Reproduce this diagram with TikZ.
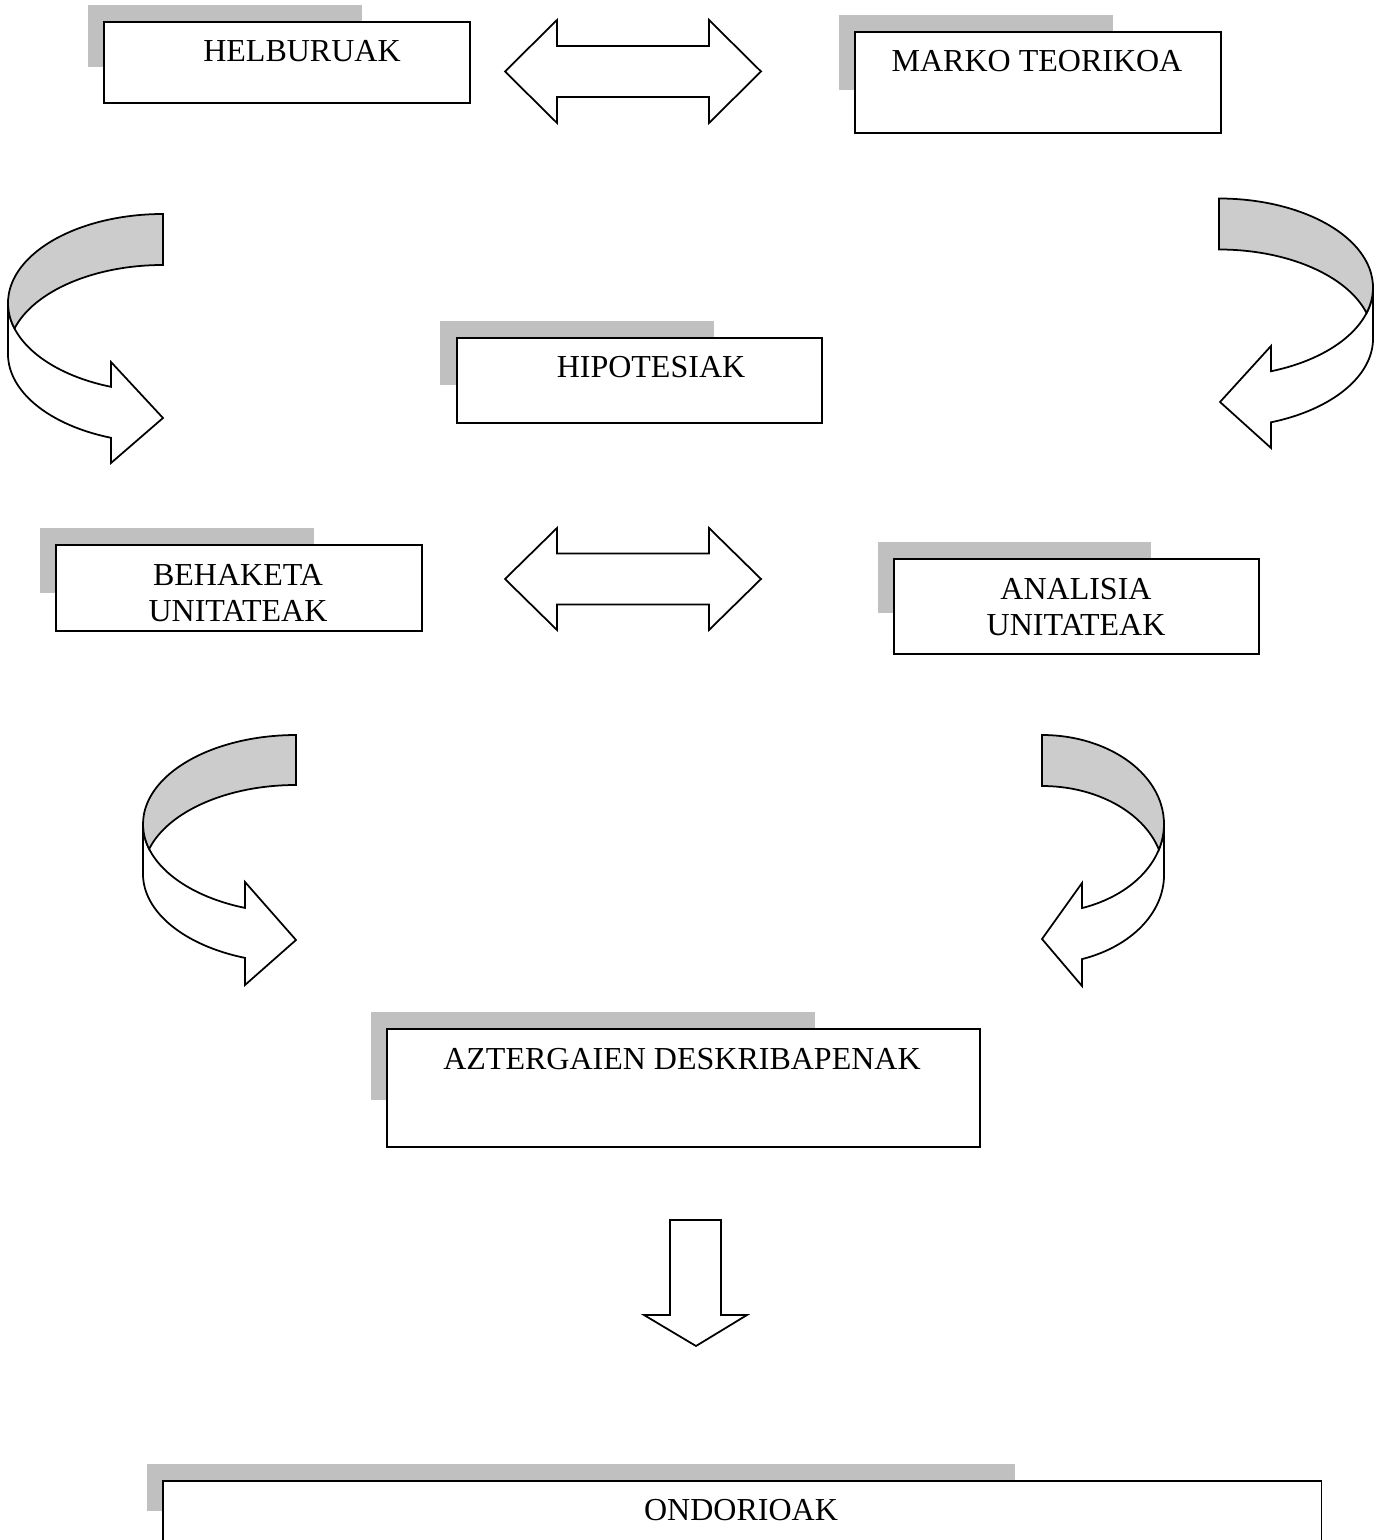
\documentclass[tikz,border=0pt]{standalone}
\usepackage{fontspec}
\setmainfont{Liberation Serif}
\definecolor{shadowgray}{RGB}{192,192,192}
\definecolor{bandgray}{RGB}{204,204,204}

\begin{document}
\begin{tikzpicture}[x=0.01cm, y=-0.01cm, line join=miter, font=\fontsize{9.1}{10.24}\selectfont,
  box/.style={draw, line width=0.5pt, fill=white, rectangle, inner sep=0pt, anchor=north west},
  lbl/.style={inner sep=0pt, align=center, anchor=north},
  boxshadow/.style={fill=shadowgray},
  blockarrow/.style={draw, line width=0.5pt, fill=white},
  backband/.style={draw, line width=0.5pt, fill=bandgray}]
  \useasboundingbox (0,0) rectangle (1387,1540);

  % boxes with their grey shadows
  \fill[boxshadow] (88,5) rectangle ++(274,62);
  \node[box, minimum width=3.66cm, minimum height=0.81cm] (helb) at (103,21) {};
  \node[lbl] (tHelb) at (302,40) {HELBURUAK};

  \fill[boxshadow] (839,15) rectangle ++(274,75);
  \node[box, minimum width=3.66cm, minimum height=1.01cm] (marko) at (854,31) {};
  \node[lbl] (tMarko) at (1037,50) {MARKO TEORIKOA};

  \fill[boxshadow] (440,321) rectangle ++(274,64);
  \node[box, minimum width=3.65cm, minimum height=0.85cm] (hipo) at (456,337) {};
  \node[lbl] (tHipo) at (651,356) {HIPOTESIAK};

  \fill[boxshadow] (40,528) rectangle ++(274,65);
  \node[box, minimum width=3.66cm, minimum height=0.86cm] (behak) at (55,544) {};
  \node[lbl] (tBehak) at (238,564) {BEHAKETA\\UNITATEAK};

  \fill[boxshadow] (878,542) rectangle ++(273,71);
  \node[box, minimum width=3.65cm, minimum height=0.95cm] (anal) at (893,558) {};
  \node[lbl] (tAnal) at (1076,578) {ANALISIA\\UNITATEAK};

  \fill[boxshadow] (371,1012) rectangle ++(444,88);
  \node[box, minimum width=5.93cm, minimum height=1.18cm] (azter) at (386,1028) {};
  \node[lbl] (tAzter) at (682,1048) {AZTERGAIEN DESKRIBAPENAK};

  \fill[boxshadow] (147,1464) rectangle ++(868,47);
  \node[box, minimum width=11.58cm, minimum height=0.63cm] (ondor) at (162,1480) {};
  \node[lbl] (tOndor) at (741,1499) {ONDORIOAK};

  % double block arrows
  \draw[blockarrow] (505,71.5) -- (557,20) -- (557,46) -- (709,46) -- (709,20) -- (761,71.5)
    -- (709,123) -- (709,97) -- (557,97) -- (557,123) -- cycle;
  \draw[blockarrow] (505,579) -- (557,528) -- (557,553.5) -- (709,553.5) -- (709,528) -- (761,579)
    -- (709,630) -- (709,604.5) -- (557,604.5) -- (557,630) -- cycle;

  % curved arrow, top left
  \draw[blockarrow] (8,303) arc[start angle=180, end angle=109.6, x radius=155, y radius=89]
    -- (111,362) -- (163,418) -- (111,463) -- (111,437.8)
    arc[start angle=109.6, end angle=180, x radius=155, y radius=89] -- cycle;
  \draw[backband] (163,265) arc[start angle=270, end angle=196.65, x radius=155, y radius=89]
    arc[start angle=163.35, end angle=270, x radius=155, y radius=89] -- cycle;

  % curved arrow, top right
  \draw[blockarrow] (1373,287.5) arc[start angle=0, end angle=70.27, x radius=154, y radius=89]
    -- (1271,346) -- (1220,402) -- (1271,448) -- (1271,422.3)
    arc[start angle=70.27, end angle=0, x radius=154, y radius=89] -- cycle;
  \draw[backband] (1219,249.5) arc[start angle=270, end angle=343.35, x radius=154, y radius=89]
    arc[start angle=16.65, end angle=-90, x radius=154, y radius=89] -- cycle;

  % curved arrow, bottom left
  \draw[blockarrow] (143,824) arc[start angle=180, end angle=109.47, x radius=153, y radius=89]
    -- (245,882) -- (296,940) -- (245,985) -- (245,957.9)
    arc[start angle=109.47, end angle=180, x radius=153, y radius=89] -- cycle;
  \draw[backband] (296,785) arc[start angle=270, end angle=196.31, x radius=153, y radius=89]
    arc[start angle=163.69, end angle=270, x radius=153, y radius=89] -- cycle;

  % curved arrow, bottom right
  \draw[blockarrow] (1164,824) arc[start angle=0, end angle=70.86, x radius=122, y radius=89]
    -- (1082,883) -- (1042,939) -- (1082,986) -- (1082,959.1)
    arc[start angle=70.86, end angle=0, x radius=122, y radius=89] -- cycle;
  \draw[backband] (1042,786) arc[start angle=270, end angle=343.35, x radius=122, y radius=89]
    arc[start angle=16.65, end angle=-90, x radius=122, y radius=89] -- cycle;

  % down arrow
  \draw[blockarrow] (670,1220) -- (721,1220) -- (721,1315) -- (747,1315) -- (696,1346)
    -- (644,1315) -- (670,1315) -- cycle;
\end{tikzpicture}
\end{document}
